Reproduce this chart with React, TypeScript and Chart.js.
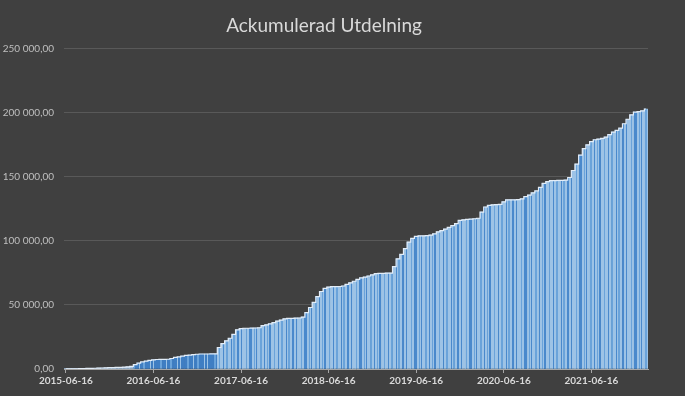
import { useEffect, useRef } from "react";
import { Chart, registerables } from "chart.js";

Chart.register(...registerables);

// Half-monthly sampling dates (x categories)
const categories = [
  "2015-06-16", "2015-07-01", "2015-07-16", "2015-08-01", "2015-08-16", "2015-09-01", "2015-09-16", "2015-10-01", "2015-10-16", "2015-11-01", "2015-11-16", "2015-12-01", "2015-12-16", "2016-01-01",
  "2016-01-16", "2016-02-01", "2016-02-16", "2016-03-01", "2016-03-16", "2016-04-01", "2016-04-16", "2016-05-01", "2016-05-16", "2016-06-01",
  "2016-06-16", "2016-07-01", "2016-07-16", "2016-08-01", "2016-08-16", "2016-09-01", "2016-09-16", "2016-10-01", "2016-10-16", "2016-11-01", "2016-11-16", "2016-12-01", "2016-12-16", "2017-01-01",
  "2017-01-16", "2017-02-01", "2017-02-16", "2017-03-01", "2017-03-16", "2017-04-01", "2017-04-16", "2017-05-01", "2017-05-16", "2017-06-01",
  "2017-06-16", "2017-07-01", "2017-07-16", "2017-08-01", "2017-08-16", "2017-09-01", "2017-09-16", "2017-10-01", "2017-10-16", "2017-11-01", "2017-11-16", "2017-12-01", "2017-12-16", "2018-01-01",
  "2018-01-16", "2018-02-01", "2018-02-16", "2018-03-01", "2018-03-16", "2018-04-01", "2018-04-16", "2018-05-01", "2018-05-16", "2018-06-01",
  "2018-06-16", "2018-07-01", "2018-07-16", "2018-08-01", "2018-08-16", "2018-09-01", "2018-09-16", "2018-10-01", "2018-10-16", "2018-11-01", "2018-11-16", "2018-12-01", "2018-12-16", "2019-01-01",
  "2019-01-16", "2019-02-01", "2019-02-16", "2019-03-01", "2019-03-16", "2019-04-01", "2019-04-16", "2019-05-01", "2019-05-16", "2019-06-01",
  "2019-06-16", "2019-07-01", "2019-07-16", "2019-08-01", "2019-08-16", "2019-09-01", "2019-09-16", "2019-10-01", "2019-10-16", "2019-11-01", "2019-11-16", "2019-12-01", "2019-12-16", "2020-01-01",
  "2020-01-16", "2020-02-01", "2020-02-16", "2020-03-01", "2020-03-16", "2020-04-01", "2020-04-16", "2020-05-01", "2020-05-16", "2020-06-01",
  "2020-06-16", "2020-07-01", "2020-07-16", "2020-08-01", "2020-08-16", "2020-09-01", "2020-09-16", "2020-10-01", "2020-10-16", "2020-11-01", "2020-11-16", "2020-12-01", "2020-12-16", "2021-01-01",
  "2021-01-16", "2021-02-01", "2021-02-16", "2021-03-01", "2021-03-16", "2021-04-01", "2021-04-16", "2021-05-01", "2021-05-16", "2021-06-01",
  "2021-06-16", "2021-07-01", "2021-07-16", "2021-08-01", "2021-08-16", "2021-09-01", "2021-09-16", "2021-10-01", "2021-10-16", "2021-11-01", "2021-11-16", "2021-12-01", "2021-12-16", "2022-01-01",
  "2022-01-16", "2022-02-01",
];

// Accumulated dividends (SEK)
const cumulative = [
  50, 100, 150, 200, 300, 350, 450, 500, 600, 700, 800, 900, 1000, 1100,
  1200, 1300, 1400, 1600, 2000, 3400, 4600, 5500, 6200, 6700,
  7200, 7400, 7500, 7500, 7600, 8200, 9000, 9500, 10000, 10600, 10900, 11200, 11500, 11700,
  11700, 11700, 11800, 11800, 16800, 19800, 22000, 24000, 27000, 30500,
  31500, 31800, 31800, 31900, 32000, 32200, 33900, 34500, 35200, 36200, 37400, 38200, 39200, 39600,
  39600, 39700, 39800, 40500, 44000, 48000, 52000, 56500, 60500, 63000,
  64000, 64300, 64300, 64400, 64800, 66000, 67200, 68500, 70000, 71200, 71800, 72600, 73500, 74500,
  74700, 74700, 74800, 74900, 80000, 86000, 89500, 94000, 99000, 102000,
  103500, 103900, 104000, 104200, 104500, 105500, 107000, 108000, 109200, 110500, 112000, 113500, 116000, 116500,
  116800, 117000, 117300, 117700, 122500, 126500, 127800, 128100, 128300, 128500,
  130500, 132000, 132000, 132100, 132300, 132800, 134600, 135800, 137500, 139000, 141800, 145000, 146300, 147000,
  147100, 147200, 147300, 147500, 149500, 155000, 160000, 167000, 172000, 175000,
  177500, 179000, 179500, 180000, 181000, 183000, 185000, 186300, 188000, 191500, 195000, 198400, 200500, 201000,
  201500, 203000,
];

const yearTicks = [
  "2015-06-16", "2016-06-16", "2017-06-16", "2018-06-16", "2019-06-16", "2020-06-16", "2021-06-16",
];

const yMin = 0;
const yMax = 250000;
const yStep = 50000;

const LIGHT = "#9dc3e6";
const MID = "#6aa3da";
const DARK = "#4a89cc";
const DEEP = "#3f7ec3";

const lightStripes: [number, string][] = [
  [3, LIGHT], [1, DARK], [2, LIGHT], [2, MID], [3, LIGHT], [1, DARK], [1, LIGHT], [2, MID],
  [2, LIGHT], [2, DARK], [2, LIGHT], [1, DARK], [4, LIGHT], [1, MID], [2, LIGHT], [3, DARK],
  [2, LIGHT], [1, MID], [1, LIGHT], [1, DARK], [3, LIGHT], [2, MID], [2, LIGHT], [1, DARK], [2, LIGHT],
  [1, MID], [1, LIGHT], [2, DARK], [3, LIGHT], [1, MID],
];
const darkStripes: [number, string][] = [
  [4, DEEP], [1, LIGHT], [3, DEEP], [2, MID], [5, DEEP], [1, LIGHT], [2, DEEP], [1, LIGHT], [6, DEEP], [2, MID],
];

function makePattern(ctx: CanvasRenderingContext2D, stripes: [number, string][]) {
  const c = document.createElement("canvas");
  const total = stripes.reduce((s, [w]) => s + w, 0);
  c.width = total;
  c.height = 4;
  const g = c.getContext("2d")!;
  let x = 0;
  for (const [w, col] of stripes) {
    g.fillStyle = col;
    g.fillRect(x, 0, w, 4);
    x += w;
  }
  return ctx.createPattern(c, "repeat")!;
}

function formatY(v: number) {
  const s = Math.round(v).toString().replace(/\B(?=(\d{3})+(?!\d))/g, " ");
  return s + ",00";
}

export default function App() {
  const ref = useRef<HTMLCanvasElement | null>(null);

  useEffect(() => {
    const canvas = ref.current!;
    const ctx = canvas.getContext("2d")!;
    const lightPat = makePattern(ctx, lightStripes);
    const darkPat = makePattern(ctx, darkStripes);

    const chart = new Chart(canvas, {
      type: "bar",
      data: {
        labels: categories,
        datasets: [
          {
            type: "line",
            data: cumulative,
            borderColor: "#e3edf8",
            borderWidth: 1.2,
            stepped: "middle",
            pointRadius: 0,
            fill: false,
            order: 0,
          },
          {
            type: "bar",
            data: cumulative,
            backgroundColor: (c: any) => {
              const i = c.dataIndex;
              if (i <= 18) return "#a9c6e4";
              if (i >= 19 && i <= 41) return darkPat;
              return lightPat;
            },
            borderWidth: 0,
            barPercentage: 1,
            categoryPercentage: 1,
            order: 1,
          },
        ],
      },
      options: {
        responsive: false,
        animation: false,
        devicePixelRatio: 1,
        layout: { padding: { left: 0, right: 37, top: 0, bottom: 0 } },
        plugins: {
          legend: { display: false },
          tooltip: { enabled: false },
          title: {
            display: true,
            text: "Ackumulerad Utdelning",
            color: "#d9d9d9",
            font: { family: "Lato", size: 19, weight: "normal" },
            padding: { top: 14, bottom: 12 },
          },
        },
        scales: {
          x: {
            type: "category",
            offset: true,
            afterFit: (s: any) => {
              s.height = 27;
            },
            grid: {
              offset: false,
              drawOnChartArea: false,
              drawTicks: true,
              tickLength: 4,
              color: (c: any) => (yearTicks.includes(categories[c.index]) ? "#a6a6a6" : "rgba(0,0,0,0)"),
              tickColor: (c: any) => (yearTicks.includes(categories[c.index]) ? "#a6a6a6" : "rgba(0,0,0,0)"),
            },
            border: { display: true, color: "#a6a6a6", width: 1 },
            ticks: {
              autoSkip: false,
              maxRotation: 0,
              minRotation: 0,
              padding: 2,
              color: "#d9d9d9",
              font: { family: "Lato", size: 10, weight: "bold" },
              callback: (_v: any, i: number) => (yearTicks.includes(categories[i]) ? categories[i] : ""),
            },
          },
          y: {
            min: yMin,
            max: yMax,
            afterFit: (s: any) => {
              s.width = 64;
            },
            grid: { color: "#595959", drawTicks: false, lineWidth: 1 },
            border: { display: false },
            ticks: {
              stepSize: yStep,
              padding: 10,
              color: "#bfbfbf",
              font: { family: "Lato", size: 10 },
              callback: (v: any) => formatY(Number(v)),
            },
          },
        },
      },
    } as any);

    return () => chart.destroy();
  }, []);

  return (
    <div style={{ position: "fixed", left: 0, top: 0, width: 685, height: 396, background: "#404040" }}>
      <canvas ref={ref} width={685} height={396} style={{ display: "block" }} />
    </div>
  );
}
